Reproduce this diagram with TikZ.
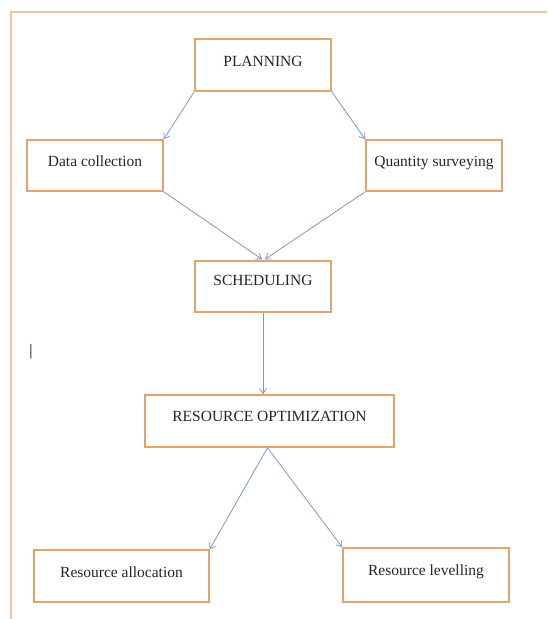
\documentclass[tikz,border=0pt]{standalone}
\usepackage{fontspec}
\setmainfont{Liberation Serif}
\usepackage{tikz}
\usetikzlibrary{arrows.meta}

\definecolor{boxorange}{RGB}{226,164,108}
\definecolor{frameorange}{RGB}{236,196,160}
\definecolor{arrowblue}{RGB}{128,152,192}

\begin{document}
\begin{tikzpicture}[
        x = 1pt, y = -1pt,
        >={Straight Barb[length=5pt, width=7pt]},
        stage/.style = {draw = boxorange, line width = 1.5pt, fill = white,
            font = \fontsize{15.5}{17}\selectfont, text = black!85,
            text depth = 8pt, inner sep = 0pt},
        flow/.style = {->, draw = arrowblue, line width = 0.8pt}
    ]

        % Page area and the outer frame (cut off on the right and bottom).
        \useasboundingbox[fill = white] (0, 0) rectangle (547, 619);
        \draw[draw = frameorange, line width = 1.6pt] (11, 619) to (11, 12) to (547, 12);

        % Points for the drawing.
        \coordinate (plan) at (263, 65);
        \coordinate (data) at (95, 165.5);
        \coordinate (quant) at (434, 165.5);
        \coordinate (sched) at (263, 286.5);
        \coordinate (resopt) at (269.5, 421);
        \coordinate (alloc) at (121.5, 576);
        \coordinate (level) at (426, 575);

        % The stages of the process.
        \node[stage, minimum width = 136pt, minimum height = 52pt] (planning) at (plan) {PLANNING};
        \node[stage, minimum width = 136pt, minimum height = 51pt] (datacol) at (data) {Data collection};
        \node[stage, minimum width = 136pt, minimum height = 51pt] (survey) at (quant) {Quantity surveying};
        \node[stage, minimum width = 136pt, minimum height = 51pt, text depth = 12pt] (scheduling) at (sched) {SCHEDULING};
        \node[stage, minimum width = 249pt, minimum height = 52pt, text depth = 10pt] (optim) at (resopt) {RESOURCE OPTIMIZATION};
        \node[stage, minimum width = 175pt, minimum height = 52pt] (allocation) at (alloc) {Resource allocation};
        \node[stage, minimum width = 166pt, minimum height = 54pt, text depth = 10pt] (levelling) at (level) {Resource levelling};

        % Stray mark on the left.
        \node[font = \fontsize{16}{18}\selectfont, inner sep = 0pt] (mark) at (31, 352) {|};

        % Planning splits into the two inputs.
        \draw[flow] (planning.south west) to (datacol.north east);
        \draw[flow] (planning.south east) to (survey.north west);

        % Both inputs feed the schedule.
        \draw[flow] (datacol.south east) to ([xshift = -1pt, yshift = 1pt]scheduling.north);
        \draw[flow] (survey.south west) to ([xshift = 2pt, yshift = 1pt]scheduling.north);

        % Schedule to optimization.
        \draw[flow] (scheduling.south) to (optim.north -| scheduling.south);

        % Optimization splits into allocation and levelling.
        \draw[flow] ([xshift = -2pt]optim.south) to (allocation.north east);
        \draw[flow] ([xshift = -2pt]optim.south) to (levelling.north west);
    \end{tikzpicture}
\end{document}
